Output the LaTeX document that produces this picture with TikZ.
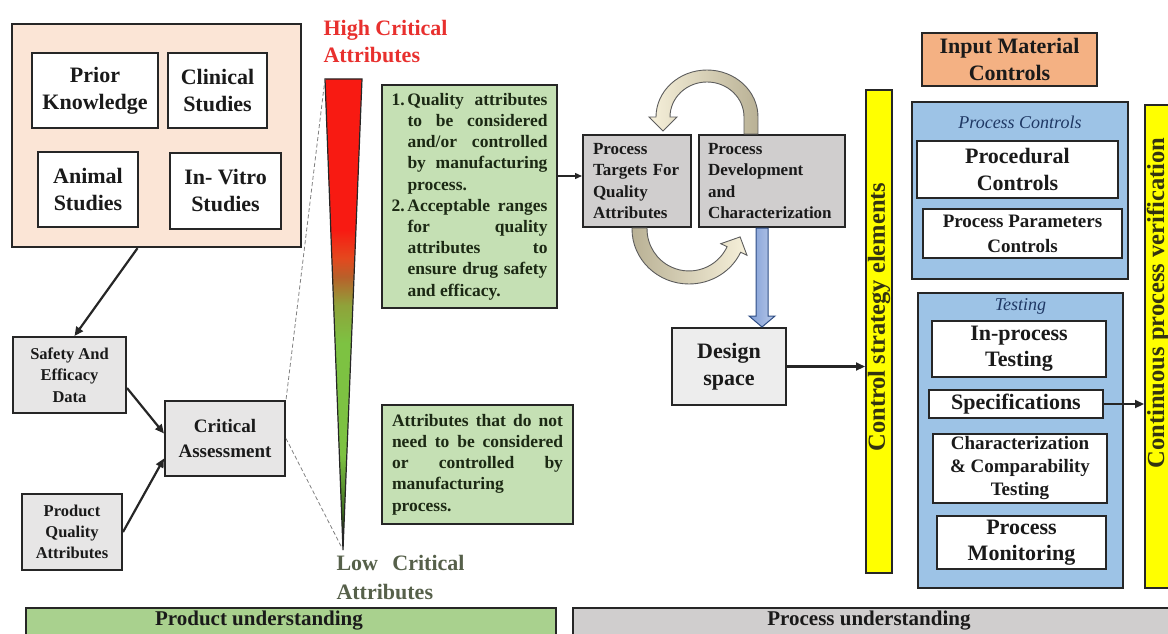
\documentclass[tikz,border=0pt]{standalone}
\usepackage{fontspec}
\setmainfont{Liberation Serif}
\usetikzlibrary{arrows.meta,calc}

\definecolor{peach}{HTML}{FBE5D6}
\definecolor{boxgray}{HTML}{E7E6E6}
\definecolor{lightgray2}{HTML}{EDEDED}
\definecolor{procgray}{HTML}{D0CECE}
\definecolor{leaf}{HTML}{C5E0B4}
\definecolor{sky}{HTML}{9DC3E6}
\definecolor{apricot}{HTML}{F4B183}
\definecolor{lemon}{HTML}{FFFF00}
\definecolor{bargreen}{HTML}{A9D18E}
\definecolor{edge}{HTML}{262626}
\definecolor{ink}{HTML}{1A1A1A}
\definecolor{critred}{HTML}{E8302E}
\definecolor{lowtxt}{HTML}{56604A}
\definecolor{navytxt}{HTML}{1F3864}
\definecolor{leaftxt}{HTML}{1C2914}
\definecolor{bartxt}{HTML}{333311}
\definecolor{cream}{HTML}{F6F0DA}
\definecolor{khaki}{HTML}{B9B195}
\definecolor{steel}{HTML}{7F9DD6}
\definecolor{steeledge}{HTML}{2F4E85}
\definecolor{critdkgreen}{HTML}{3F6E1E}
\definecolor{critgreen}{HTML}{7DC242}
\definecolor{critolive}{HTML}{8FA23A}
\definecolor{critbrown}{HTML}{B8602A}
\definecolor{critorange}{HTML}{E4481E}
\definecolor{critredfill}{HTML}{F81A12}

% criticality scale: dark at the tip, green, brown, red at the top
\pgfdeclareverticalshading{critshade}{100bp}{color(0bp)=(black); color(25bp)=(black);
  color(29bp)=(critdkgreen); color(35bp)=(critgreen); color(47bp)=(critgreen);
  color(51bp)=(critolive); color(54bp)=(critbrown); color(56bp)=(critorange);
  color(59bp)=(critredfill); color(75bp)=(critredfill); color(100bp)=(critredfill)}

\newcommand\fsz[2]{\fontsize{#1}{#2}\selectfont\bfseries}

\begin{document}
\begin{tikzpicture}[x=1pt,y=-1pt,
  box/.style={draw=edge, line width=2.2pt, inner sep=0pt, align=center, text=ink},
  arr/.style={draw=edge, line width=2.2pt, -{Triangle[length=9pt,width=8pt]}},
  thinarr/.style={draw=edge, line width=1.4pt, -{Triangle[length=7pt,width=6pt]}},
  ybar/.style={draw=edge, line width=2pt, fill=lemon, inner sep=0pt, minimum width=26},
  bartext/.style={rotate=90, font=\fsz{24.5}{28}, text=bartxt},
  group/.style={draw=edge, line width=2pt, fill=sky, inner sep=0pt},
  grouptitle/.style={font=\fontsize{18}{22}\selectfont\itshape, text=navytxt},
  loop/.style={draw=edge!75, line width=0.9pt}
]
\useasboundingbox (0,0) rectangle (1168,634);
\clip (0,0) rectangle (1168,634);

% ---------- evidence sources ----------
\node[box, fill=peach, line width=2.4pt, minimum width=289, minimum height=223] (evidence) at (156.5,135.5) {};
\node[box, fill=white, minimum width=126, minimum height=75, font=\fsz{22}{27}] (prior) at (95,90.5) {Prior\\Knowledge};
\node[box, fill=white, minimum width=99, minimum height=75, font=\fsz{22}{27}] (clinical) at (217.5,90.5) {Clinical\\Studies};
\node[box, fill=white, minimum width=100, minimum height=75, font=\fsz{22}{27}] (animal) at (88,189.5) {Animal\\Studies};
\node[box, fill=white, minimum width=111, minimum height=76, font=\fsz{22}{27}] (invitro) at (225.5,191) {In- Vitro\\Studies};

% ---------- assessment ----------
\node[box, fill=boxgray, line width=2pt, minimum width=113, minimum height=76, font=\fsz{16.5}{21.5}] (safety) at (69.5,375) {Safety And\\Efficacy\\Data};
\node[box, fill=boxgray, line width=2pt, minimum width=120, minimum height=75, font=\fsz{19}{25}] (crit) at (225,438.5) {Critical\\Assessment};
\node[box, fill=boxgray, line width=2pt, minimum width=100, minimum height=76, font=\fsz{16.5}{21}] (pqa) at (72,532) {Product\\Quality\\Attributes};

\draw[arr] ([xshift=-19pt]evidence.south) -- ([xshift=5pt]safety.north);
\draw[arr] ([yshift=-13pt]safety.east) -- ([yshift=5pt]crit.west);
\draw[arr] (pqa.east) -- ([yshift=-20pt]crit.west);

% ---------- criticality scale ----------
\coordinate (tl) at (325,79);
\coordinate (tr) at (362,79);
\coordinate (tip) at (343,550);
\shadedraw[shading=critshade, draw=edge, line width=1.2pt, line join=miter] (tl) -- (tr) -- (tip) -- cycle;
\draw[gray, line width=0.8pt, dash pattern=on 4pt off 2.5pt] (tl) -- (crit.north east);
\draw[gray, line width=0.8pt, dash pattern=on 4pt off 2.5pt] (crit.east) -- (tip);

\node[anchor=west, align=left, text=critred, font=\fsz{22}{27}] (hightxt) at (320,41.5) {High Critical\\Attributes};
\node[anchor=west, align=left, text=lowtxt, font=\fsz{22}{28.5}] (lowtxt) at (333,577.5) {\makebox[128pt][s]{Low Critical}\\Attributes};

% ---------- attribute classes ----------
\node[box, fill=leaf, line width=2pt, minimum width=175, minimum height=223, align=left, text=leaftxt, font=\fsz{17.5}{21.2}] (green1) at (469.5,196.5)
 {\makebox[16pt][l]{1.}\makebox[140pt][s]{Quality attributes}\\
  \hspace*{16pt}\makebox[140pt][s]{to be considered}\\
  \hspace*{16pt}\makebox[140pt][s]{and/or controlled}\\
  \hspace*{16pt}\makebox[140pt][s]{by manufacturing}\\
  \hspace*{16pt}process.\\
  \makebox[16pt][l]{2.}\makebox[140pt][s]{Acceptable ranges}\\
  \hspace*{16pt}\makebox[140pt][s]{for quality}\\
  \hspace*{16pt}\makebox[140pt][s]{attributes to}\\
  \hspace*{16pt}\makebox[140pt][s]{ensure drug safety}\\
  \hspace*{16pt}and efficacy.};
\node[box, fill=leaf, line width=2pt, minimum width=191, minimum height=119, align=left, text=leaftxt, font=\fsz{17.5}{21.2}] (green2) at (477.5,464.5)
 {\makebox[171pt][s]{Attributes that do not}\\
  \makebox[171pt][s]{need to be considered}\\
  \makebox[171pt][s]{or controlled by}\\
  manufacturing\\
  process.};

% ---------- process development loop ----------
\node[box, fill=procgray, line width=2pt, minimum width=108, minimum height=92, text width=88, align=left, font=\fsz{17}{21.3}] (pt) at (637,181) {Process\\Targets For\\Quality\\Attributes};
\node[box, fill=procgray, line width=2pt, minimum width=146, minimum height=92, text width=128, align=left, font=\fsz{17}{21.3}] (pd) at (772,181) {Process\\Development\\and\\Characterization};
\draw[thinarr] ([yshift=5pt]green1.east |- pt.west) -- ([yshift=5pt]pt.west);

\coordinate (loopA) at ($(pd.north west)+(60,0)$);
\shadedraw[loop, left color=cream, right color=khaki]
  (loopA) -- ++(0,-17) arc[start angle=0, end angle=-180, x radius=51, y radius=47]
  -- ++(-7,0) -- ++(14,14) -- ++(14,-14) -- ++(-7,0)
  arc[start angle=-180, end angle=0, x radius=37, y radius=35] -- ++(0,17) -- cycle;
\coordinate (loopB) at ($(pt.south west)+(50,0)$);
\shadedraw[loop, left color=khaki, right color=cream]
  (loopB) -- ++(0,1) arc[start angle=180, end angle=25, x radius=57, y radius=55]
  -- ++(6.3,3) -- ++(-6.86,-18.34) -- ++(-19.3,6.8) -- ++(6.3,3)
  arc[start angle=25, end angle=180, x radius=42, y radius=42] -- ++(0,-1) -- cycle;

\node[box, fill=lightgray2, line width=2pt, minimum width=114, minimum height=77, font=\fsz{22}{27}] (design) at (729,366.5) {Design\\space};
\coordinate (dsTop) at ($(pd.south)+(-10,0)$);
\shadedraw[left color=steel, right color=steel!55!white, draw=steeledge, line width=1pt, line join=miter]
  ($(dsTop)+(-6,0)$) -- ($(dsTop)+(-6,88)$) -- ($(dsTop)+(-13,88)$) -- (dsTop |- design.north)
  -- ($(dsTop)+(13,88)$) -- ($(dsTop)+(6,88)$) -- ($(dsTop)+(6,0)$) -- cycle;

% ---------- control strategy ----------
\node[ybar, minimum height=483] (cse) at (879,331.5) {};
\node[bartext] (cselab) at (879,317) {Control strategy elements};
\draw[arr] (design.east) -- (cse.west |- design.east);

\node[box, fill=apricot, minimum width=175, minimum height=53, font=\fsz{22}{27}] (input) at (1009.5,59.5) {Input Material\\Controls};

\node[group, minimum width=216, minimum height=177] (pcgroup) at (1020,190.5) {};
\node[grouptitle] (pctitle) at (1020,122) {Process Controls};
\node[box, fill=white, minimum width=201, minimum height=57, font=\fsz{22}{26.5}] (procedural) at (1017.5,169.5) {Procedural\\Controls};
\node[box, fill=white, minimum width=199, minimum height=49, font=\fsz{19}{25}] (pparam) at (1022.5,233.5) {Process Parameters\\Controls};

\node[group, minimum width=205, minimum height=295] (testgroup) at (1020.5,440.5) {};
\node[grouptitle] (testtitle) at (1020.5,306) {Testing};
\node[box, fill=white, minimum width=174, minimum height=56, font=\fsz{22}{26}] (inproc) at (1019,349) {In-process\\Testing};
\node[box, fill=white, minimum width=174, minimum height=28, font=\fsz{22}{26}] (spec) at (1016,404) {Specifications};
\node[box, fill=white, minimum width=174, minimum height=69, font=\fsz{19}{23}] (charac) at (1020,468.5) {Characterization\\\& Comparability\\Testing};
\node[box, fill=white, minimum width=169, minimum height=53, font=\fsz{22}{26}] (pmon) at (1021.5,542.5) {Process\\Monitoring};

\node[ybar, minimum width=27, minimum height=483] (cpv) at (1158.5,346.5) {};
\node[bartext] (cpvlab) at (1158,303) {Continuous process verification};
\draw[arr] (spec.east) -- (cpv.west |- spec.east);

% ---------- understanding bands ----------
\node[draw=edge, line width=2pt, fill=bargreen, inner sep=0pt, minimum width=530, minimum height=40, anchor=north west] (prodbar) at (25,607) {};
\node[font=\fsz{21}{24}, text=ink] (prodlab) at (259,621) {Product understanding};
\node[draw=edge, line width=2pt, fill=procgray, inner sep=0pt, minimum width=620, minimum height=40, anchor=north west] (procbar) at (572,607) {};
\node[font=\fsz{21}{24}, text=ink] (proclab) at (869,621) {Process understanding};
\end{tikzpicture}
\end{document}
